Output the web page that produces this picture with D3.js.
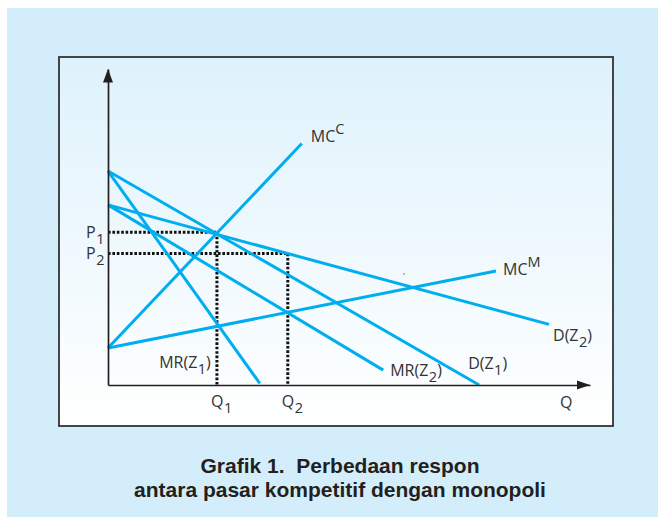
<!DOCTYPE html>
<html><head><meta charset="utf-8">
<script src="https://cdn.jsdelivr.net/npm/d3@7"></script>
<style>html,body{margin:0;padding:0;background:#fff;} svg{display:block} text{white-space:pre}</style>
</head><body><svg id="c" width="658" height="517"></svg>
<script>
// ---- data (chart units) ----
const curveNames  = ["MC^C", "MC^M", "D(Z_2)", "D(Z_1)", "MR(Z_1)", "MR(Z_2)"];
const curveStartQ = [0, 0, 0, 0, 0, 0];
const curveStartP = [1.17, 1.17, 5.70, 6.77, 6.77, 5.70];
const curveEndQ   = [4.02, 8.05, 9.15, 7.70, 3.15, 5.71];
const curveEndP   = [7.64, 3.61, 1.92, 0.00, 0.05, 0.47];
const qTickLabels = ["Q_1", "Q_2"];
const qTickValues = [2.26, 3.73];
const pTickLabels = ["P_1", "P_2"];
const pTickValues = [4.83, 4.16];
const xAxisTitle  = "Q";
const captionLines = ["Grafik 1.  Perbedaan respon", "antara pasar kompetitif dengan monopoli"];

// ---- layout ----
const svg = d3.select("#c");
const x = d3.scaleLinear().domain([0, 10]).range([108, 590]);
const y = d3.scaleLinear().domain([0, 10]).range([385, 69]);
const lineColor = "#00aeef", ink = "#231f20", textColor = "#333";

const defs = svg.append("defs");
const g = defs.append("linearGradient").attr("id", "bg").attr("x1", 0).attr("y1", 0).attr("x2", 0).attr("y2", 1);
g.append("stop").attr("offset", "0%").attr("stop-color", "#def2fc");
g.append("stop").attr("offset", "100%").attr("stop-color", "#ffffff");

svg.append("rect").attr("x", 7).attr("y", 8).attr("width", 651).attr("height", 509).attr("fill", "#d3eefa");
svg.append("rect").attr("x", 59).attr("y", 57).attr("width", 554).attr("height", 369)
  .attr("fill", "url(#bg)").attr("stroke", "#333").attr("stroke-width", 1.8);

function rich(sel, str, size, subSize) {
  let off = 0;
  const parts = [];
  let buf = "";
  for (let i = 0; i < str.length; i++) {
    const ch = str[i];
    if ((ch === "_" || ch === "^") && i + 1 < str.length) {
      if (buf) { parts.push({t: buf, s: 0}); buf = ""; }
      parts.push({t: str[i + 1], s: ch === "_" ? 6 : -8});
      i++;
    } else buf += ch;
  }
  if (buf) parts.push({t: buf, s: 0});
  parts.forEach(p => {
    const ts = sel.append("tspan").text(p.t).attr("dy", p.s - off)
      .attr("font-size", p.s ? subSize : size);
    if (p.s > 0) ts.attr("dx", 0.5);
    off = p.s;
  });
}

// dotted guides
const guides = [
  [[0, pTickValues[0]], [qTickValues[0], pTickValues[0]]],
  [[qTickValues[0], pTickValues[0]], [qTickValues[0], 0]],
  [[0, pTickValues[1]], [qTickValues[1], pTickValues[1]]],
  [[qTickValues[1], pTickValues[1]], [qTickValues[1], 0]]
];
svg.append("g").selectAll("line").data(guides).join("line")
  .attr("x1", d => x(d[0][0])).attr("y1", d => y(d[0][1]))
  .attr("x2", d => x(d[1][0])).attr("y2", d => y(d[1][1]))
  .attr("stroke", "#111").attr("stroke-width", 3).attr("stroke-dasharray", "2.6,1.8");

// curves
const curves = curveNames.map((n, i) => ({name: n, a: [curveStartQ[i], curveStartP[i]], b: [curveEndQ[i], curveEndP[i]]}));
const lineGen = d3.line().x(d => x(d[0])).y(d => y(d[1]));
svg.append("g").selectAll("path").data(curves).join("path")
  .attr("d", d => lineGen([d.a, d.b])).attr("fill", "none")
  .attr("stroke", lineColor).attr("stroke-width", 3).attr("stroke-linecap", "butt");

// axes
const xAxis = svg.append("g").attr("transform", `translate(0,${y(0)})`)
  .call(d3.axisBottom(x).tickValues([]).tickSizeOuter(0));
const yAxis = svg.append("g").attr("transform", `translate(${x(0)},0)`)
  .call(d3.axisLeft(y).tickValues([]).tickSizeOuter(0));
[xAxis, yAxis].forEach(a => a.select(".domain").attr("stroke", ink).attr("stroke-width", 1.7));
svg.append("path").attr("d", `M${x(10)},${y(0)} L${x(10) - 13},${y(0) - 4.5} L${x(10) - 13},${y(0) + 4.5} Z`).attr("fill", ink);
svg.append("path").attr("d", `M${x(0)},${y(10)} L${x(0) - 5},${y(10) + 13.5} L${x(0) + 5},${y(10) + 13.5} Z`).attr("fill", ink);

const font = "'Open Sans', sans-serif";
// curve labels, offsets from curve end points
const labelOffsets = {"MC^C": [9, -1.5, "start"], "MC^M": [7, 4, "start"], "D(Z_2)": [4, 17, "start"],
  "D(Z_1)": [-11, -16, "start"], "MR(Z_1)": [-49, -15, "end"], "MR(Z_2)": [7, 6, "start"]};
curves.forEach(c => {
  const o = labelOffsets[c.name];
  const t = svg.append("text").attr("x", x(c.b[0]) + o[0]).attr("y", y(c.b[1]) + o[1])
    .attr("font-family", font).attr("fill", textColor).attr("text-anchor", o[2]);
  rich(t, c.name, 16, 14.5);
});

// tick labels
qTickLabels.forEach((l, i) => {
  const t = svg.append("text").attr("x", x(qTickValues[i]) - 6).attr("y", 407)
    .attr("font-family", font).attr("fill", textColor);
  rich(t, l, 16, 14.5);
});
pTickLabels.forEach((l, i) => {
  const t = svg.append("text").attr("x", 86).attr("y", y(pTickValues[i]) + 5.5)
    .attr("font-family", font).attr("fill", textColor);
  rich(t, l, 16, 14.5);
});
svg.append("text").attr("x", 560).attr("y", 408).attr("font-family", font).attr("font-size", 16)
  .attr("fill", textColor).text(xAxisTitle);
svg.append("circle").attr("cx", 404).attr("cy", 274).attr("r", 0.7).attr("fill", "#555");

// caption
captionLines.forEach((l, i) => {
  svg.append("text").attr("x", 340).attr("y", 473 + i * 24).attr("text-anchor", "middle")
    .attr("font-family", "'Liberation Sans', Arial, sans-serif").attr("font-weight", "bold")
    .attr("font-size", 21).attr("fill", "#231f20").text(l);
});
</script></body></html>
